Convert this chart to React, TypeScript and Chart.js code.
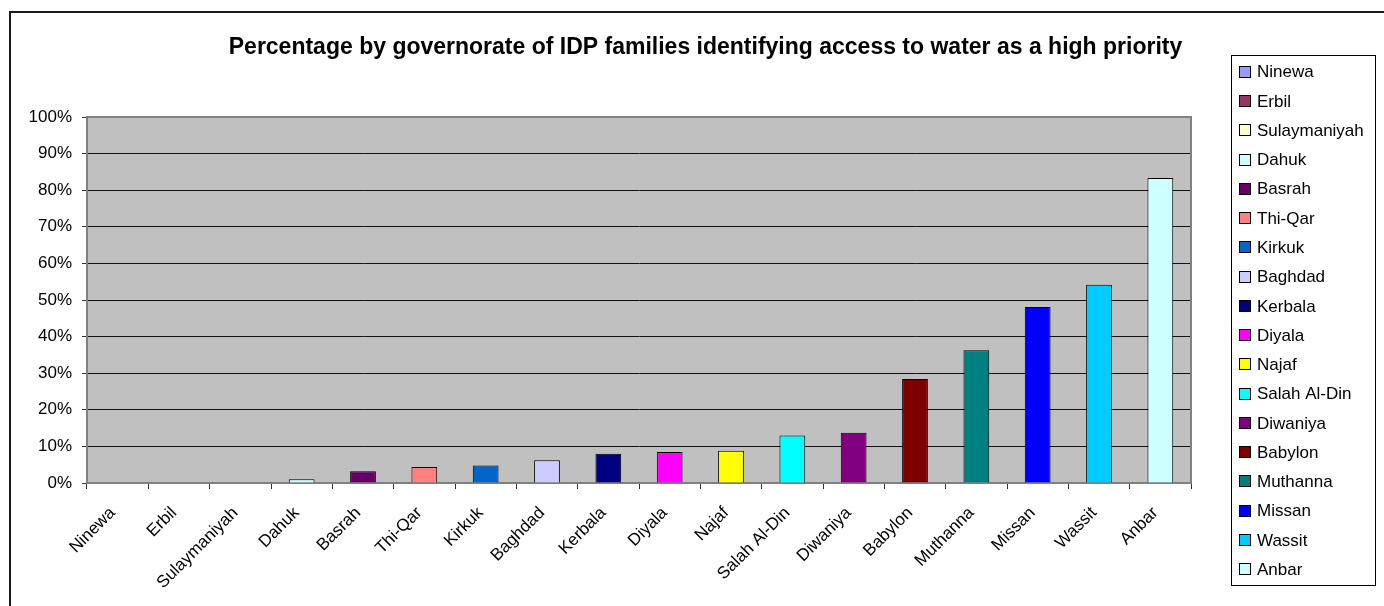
import React, { useEffect, useRef } from "react";
import { Chart, registerables } from "chart.js";

Chart.register(...registerables);

const chartTitle =
  "Percentage by governorate of IDP families identifying access to water as a high priority";

const governorates = [
  "Ninewa",
  "Erbil",
  "Sulaymaniyah",
  "Dahuk",
  "Basrah",
  "Thi-Qar",
  "Kirkuk",
  "Baghdad",
  "Kerbala",
  "Diyala",
  "Najaf",
  "Salah Al-Din",
  "Diwaniya",
  "Babylon",
  "Muthanna",
  "Missan",
  "Wassit",
  "Anbar",
];

// Share of IDP families (%) naming water access as a high priority
const waterPriorityShare = [
  0, 0, 0, 1.0, 3.2, 4.4, 4.8, 6.2, 8.0, 8.5, 8.8, 13.0, 13.7, 28.4, 36.3, 48.1,
  54.2, 83.3,
];

const barColors = [
  "#9999FF",
  "#993366",
  "#FFFFCC",
  "#CCFFFF",
  "#660066",
  "#FF8080",
  "#0066CC",
  "#CCCCFF",
  "#000080",
  "#FF00FF",
  "#FFFF00",
  "#00FFFF",
  "#800080",
  "#800000",
  "#008080",
  "#0000FF",
  "#00CCFF",
  "#CCFFFF",
];

const yTickValues = [0, 10, 20, 30, 40, 50, 60, 70, 80, 90, 100];

const FONT = "'Liberation Sans', Arial, Helvetica, sans-serif";
const PLOT_BG = "#C0C0C0";
const FRAME_GRAY = "#808080";

// Grey plot background and frame around the chart area
const plotFramePlugin = {
  id: "plotFrame",
  beforeDraw(chart: any) {
    const { ctx, chartArea } = chart;
    ctx.save();
    ctx.fillStyle = PLOT_BG;
    ctx.fillRect(
      chartArea.left,
      chartArea.top,
      chartArea.right - chartArea.left,
      chartArea.bottom - chartArea.top
    );
    ctx.restore();
  },
  afterDraw(chart: any) {
    const { ctx, chartArea } = chart;
    ctx.save();
    ctx.strokeStyle = FRAME_GRAY;
    ctx.lineWidth = 2;
    ctx.beginPath();
    ctx.moveTo(chartArea.left, chartArea.top);
    ctx.lineTo(chartArea.right, chartArea.top);
    ctx.lineTo(chartArea.right, chartArea.bottom);
    ctx.stroke();
    // outer border of the chart object
    ctx.strokeStyle = "#1a1a1a";
    ctx.lineWidth = 2;
    ctx.beginPath();
    ctx.moveTo(10, chart.height);
    ctx.lineTo(10, 12);
    ctx.lineTo(chart.width, 12);
    ctx.stroke();
    ctx.restore();
  },
};

// Boxed legend listing every governorate with its bar colour
const boxedLegendPlugin = {
  id: "boxedLegend",
  afterDraw(chart: any) {
    const { ctx } = chart;
    const labels: string[] = chart.data.labels;
    const colors: string[] = chart.data.datasets[0].backgroundColor;
    const box = { left: 1231, top: 55, right: 1375, bottom: 585 };
    const firstY = 71.7;
    const step = 29.27;
    ctx.save();
    ctx.fillStyle = "#ffffff";
    ctx.fillRect(box.left, box.top, box.right - box.left, box.bottom - box.top);
    ctx.strokeStyle = "#000000";
    ctx.lineWidth = 1;
    ctx.strokeRect(box.left + 0.5, box.top + 0.5, box.right - box.left, box.bottom - box.top);
    ctx.font = `17px ${FONT}`;
    ctx.textBaseline = "middle";
    ctx.textAlign = "left";
    labels.forEach((label, i) => {
      const cy = firstY + i * step;
      ctx.fillStyle = colors[i];
      ctx.fillRect(1239, Math.round(cy - 6), 12, 12);
      ctx.strokeStyle = "#000000";
      ctx.strokeRect(1239.5, Math.round(cy - 6) + 0.5, 11, 11);
      ctx.fillStyle = "#000000";
      ctx.fillText(label, 1257, cy + 1);
    });
    ctx.restore();
  },
};

export default function App() {
  const canvasRef = useRef<HTMLCanvasElement | null>(null);

  useEffect(() => {
    document.body.style.margin = "0";
    const canvas = canvasRef.current;
    if (!canvas) return;

    const chart = new Chart(canvas, {
      type: "bar",
      data: {
        labels: governorates,
        datasets: [
          {
            data: waterPriorityShare,
            backgroundColor: barColors,
            borderColor: "#000000",
            borderWidth: 1,
            barPercentage: 0.42,
            categoryPercentage: 1,
          },
        ],
      },
      options: {
        responsive: false,
        animation: false,
        layout: { padding: { left: 27, right: 0, top: 0, bottom: 0 } },
        plugins: {
          legend: { display: false },
          tooltip: { enabled: false },
          title: {
            display: true,
            text: chartTitle,
            color: "#000000",
            font: { family: FONT, size: 23, weight: "bold" },
            padding: { top: 34.2, bottom: 55.2 },
          },
        },
        scales: {
          x: {
            type: "category",
            grid: {
              offset: true,
              drawOnChartArea: false,
              tickLength: 6,
              tickColor: "#333333",
            },
            border: { color: FRAME_GRAY, width: 2 },
            ticks: {
              autoSkip: false,
              maxRotation: 45,
              minRotation: 45,
              color: "#000000",
              font: { family: FONT, size: 17 },
              padding: 14,
              labelOffset: -5,
            },
            afterFit(scale: any) {
              scale.height = 123;
            },
          },
          y: {
            type: "linear",
            min: 0,
            max: 100,
            afterBuildTicks(scale: any) {
              scale.ticks = yTickValues.map((v) => ({ value: v }));
            },
            grid: {
              color: "#111111",
              lineWidth: 1,
              tickLength: 5,
              tickColor: "#333333",
            },
            border: { color: FRAME_GRAY, width: 2 },
            ticks: {
              color: "#000000",
              font: { family: FONT, size: 17 },
              padding: 10,
              callback: (v: any) => `${v}%`,
            },
            afterFit(scale: any) {
              scale.width = 60;
            },
          },
          legendSpace: {
            type: "linear",
            position: "right",
            display: true,
            grid: { display: false },
            border: { display: false },
            ticks: { display: false },
            afterFit(scale: any) {
              scale.width = 193;
            },
          },
        },
      },
      plugins: [plotFramePlugin, boxedLegendPlugin],
    } as any);

    return () => {
      chart.destroy();
    };
  }, []);

  return (
    <div style={{ width: 1384, height: 606, position: "relative", background: "#ffffff" }}>
      <canvas ref={canvasRef} width={1384} height={606} />
    </div>
  );
}
